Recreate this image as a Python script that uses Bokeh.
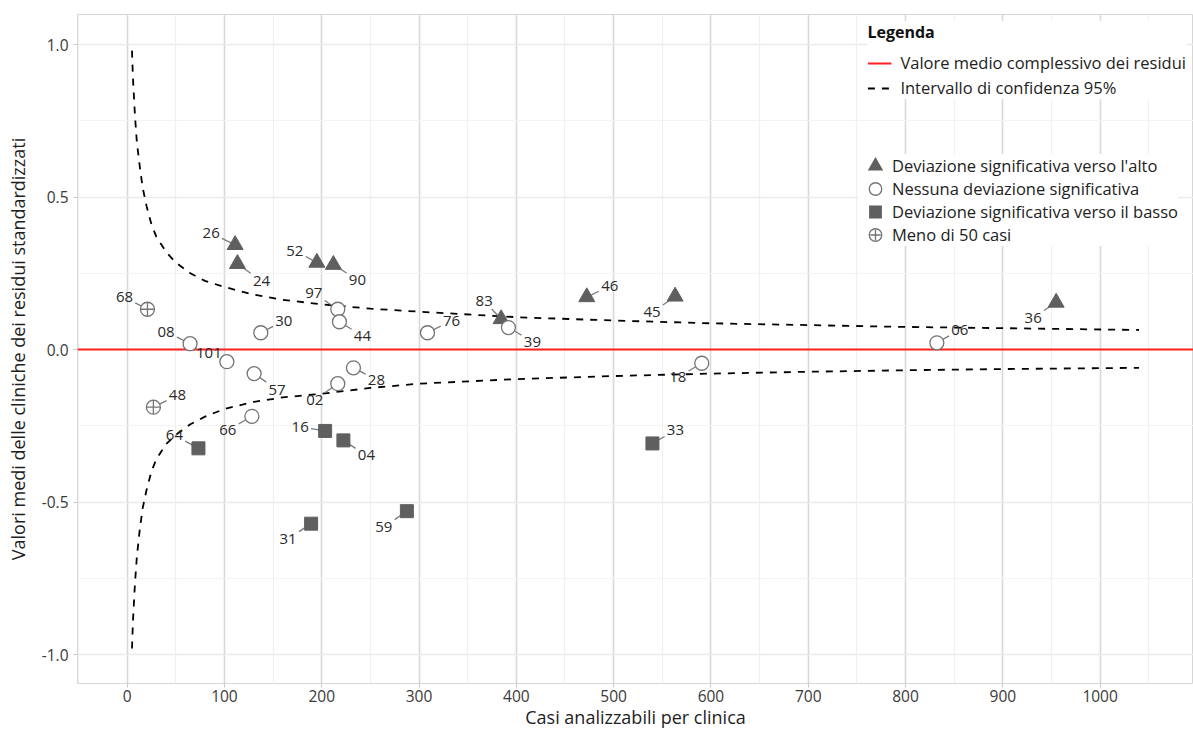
from bokeh.plotting import figure
from bokeh.models import (Legend, LegendItem, SingleIntervalTicker, PrintfTickFormatter,
                          ColumnDataSource, Range1d)
from bokeh.embed import file_html
from bokeh.resources import INLINE
from bokeh.core.properties import value

FONT = "Open Sans"

# ---------------- data ----------------
up_ids = ["26", "24", "52", "90", "83", "46", "45", "36"]
up_x = [111.0, 113.4, 195.0, 212.0, 384.4, 472.4, 563.2, 954.8]
up_y = [0.343, 0.281, 0.285, 0.278, 0.100, 0.172, 0.174, 0.154]

none_ids = ["97", "44", "30", "08", "101", "57", "28", "02", "66", "76", "39", "18", "06"]
none_x = [216.5, 218.2, 137.4, 64.7, 102.5, 130.5, 232.6, 216.5, 128.2, 308.7, 391.9, 590.6, 832.2]
none_y = [0.132, 0.091, 0.055, 0.019, -0.040, -0.079, -0.060, -0.112, -0.219, 0.055, 0.072, -0.045, 0.022]

down_ids = ["64", "16", "04", "31", "59", "33"]
down_x = [73.3, 203.5, 222.3, 189.1, 287.5, 539.9]
down_y = [-0.324, -0.267, -0.298, -0.571, -0.530, -0.308]

few_ids = ["68", "48"]
few_x = [20.9, 27.0]
few_y = [0.132, -0.189]

mean_value = 0.0

ci_n = [5, 6, 8, 10, 13, 16, 20, 25, 30, 40, 50, 65, 80, 100, 130, 160, 200, 250,
        300, 400, 500, 600, 700, 800, 900, 1040]
ci_upper = [0.98, 0.89, 0.77, 0.68, 0.60, 0.53, 0.47, 0.41, 0.37, 0.32, 0.285, 0.25,
            0.225, 0.205, 0.180, 0.163, 0.148, 0.134, 0.124, 0.106, 0.095, 0.086,
            0.080, 0.074, 0.070, 0.064]
ci_lower = [-0.98, -0.89, -0.77, -0.68, -0.59, -0.52, -0.46, -0.40, -0.36, -0.31, -0.28,
            -0.245, -0.22, -0.195, -0.172, -0.157, -0.145, -0.126, -0.112, -0.097,
            -0.087, -0.079, -0.073, -0.068, -0.064, -0.060]

# label placement (pixel offsets of the label from its point)
label_offsets = {
    "26": (-24, -12), "24": (24, 17), "52": (-22, -12), "90": (24, 15), "83": (-17, -18),
    "46": (23, -11), "45": (-23, 16), "36": (-23, 15),
    "97": (-24, -16), "44": (23, 14), "30": (23, -12), "08": (-24, -12), "101": (-18, -9),
    "57": (23, 16), "28": (23, 12), "02": (-23, 16), "66": (-24, 14), "76": (24, -12),
    "39": (24, 14), "18": (-24, 14), "06": (23, -13),
    "64": (-24, -13), "16": (-25, -4), "04": (23, 15), "31": (-23, 15), "59": (-23, 16),
    "33": (23, -13),
    "68": (-23, -12), "48": (24, -12),
}

# ---------------- figure ----------------
W, H = 1193, 733
BL, BR, BT, BB = 77, 0, 14, 50
FW, FH = W - BL - BR, H - BT - BB
x0 = -51.0
x1 = x0 + FW / 0.973
y1 = 1.0984
y0 = y1 - FH / 305.0
sx = FW / (x1 - x0)
sy = FH / (y1 - y0)

p = figure(width=W, height=H, output_backend="svg", toolbar_location=None,
           x_range=Range1d(x0, x1), y_range=Range1d(y0, y1),
           min_border_left=BL, min_border_right=BR, min_border_top=BT, min_border_bottom=BB,
           background_fill_color="white", border_fill_color="white")

p.outline_line_color = "#d6d6d6"
p.outline_line_width = 1

xt = SingleIntervalTicker(interval=100, num_minor_ticks=2)
yt = SingleIntervalTicker(interval=0.5, num_minor_ticks=2)
p.xaxis.ticker = xt
p.yaxis.ticker = yt
p.xgrid.ticker = xt
p.ygrid.ticker = yt
p.yaxis.formatter = PrintfTickFormatter(format="%.1f")

p.xgrid.grid_line_color = "#d9d9d9"
p.xgrid.grid_line_width = 1.6
p.xgrid.minor_grid_line_color = "#f0f0f0"
p.xgrid.minor_grid_line_width = 1.2
p.ygrid.grid_line_color = "#ebebeb"
p.ygrid.grid_line_width = 1.3
p.ygrid.minor_grid_line_color = "#f3f3f3"
p.ygrid.minor_grid_line_width = 1.2

for ax in (p.xaxis[0], p.yaxis[0]):
    ax.axis_line_color = None
    ax.major_tick_line_color = "#c8c8c8"
    ax.major_tick_in = 0
    ax.major_tick_out = 4
    ax.minor_tick_line_color = None
    ax.major_label_text_font = FONT
    ax.major_label_text_font_size = "15.5px"
    ax.major_label_text_color = "#3a3a3a"
    ax.axis_label_text_font = FONT
    ax.axis_label_text_font_size = "18px"
    ax.axis_label_text_font_style = "normal"
    ax.axis_label_text_color = "#1e1e1e"

p.xaxis.major_label_standoff = 2
p.xaxis.axis_label_standoff = 0
p.yaxis.major_label_standoff = 5
p.yaxis.axis_label_standoff = 9

p.xaxis.axis_label = "Casi analizzabili per clinica"
p.yaxis.axis_label = "Valori medi delle cliniche dei residui standardizzati"

# mean line and confidence band
r_mean = p.line(x=[x0, x1], y=[mean_value, mean_value], line_color="#ff2020", line_width=2)
r_up = p.line(ci_n, ci_upper, line_color="black", line_width=1.8, line_dash="7 7")
p.line(ci_n, ci_lower, line_color="black", line_width=1.8, line_dash="7 7")


def leader_data(ids, xs, ys):
    sx0, sy0, sx1, sy1, tx, ty, dxs, dys = [], [], [], [], [], [], [], []
    for i, lab in enumerate(ids):
        dx, dy = label_offsets[lab]
        hw = 4.4 * len(lab) + 2.0
        hh = 8.0
        t = min(hw / abs(dx) if dx else 9e9, hh / abs(dy) if dy else 9e9)
        ex, ey = dx * (1 - t), dy * (1 - t)
        sx0.append(xs[i]); sy0.append(ys[i])
        sx1.append(xs[i] + ex / sx); sy1.append(ys[i] - ey / sy)
        tx.append(xs[i]); ty.append(ys[i]); dxs.append(dx); dys.append(dy)
    return dict(x0=sx0, y0=sy0, x1=sx1, y1=sy1), dict(x=tx, y=ty, text=list(ids), dx=dxs, dy=dys)


groups = [(up_ids, up_x, up_y), (none_ids, none_x, none_y),
          (down_ids, down_x, down_y), (few_ids, few_x, few_y)]
label_sources = []
for ids, xs, ys in groups:
    seg, lab = leader_data(ids, xs, ys)
    p.segment("x0", "y0", "x1", "y1", source=ColumnDataSource(seg),
              line_color="#7a7a7a", line_width=1.3)
    label_sources.append(lab)

MARK = "#5f5f5f"
RING = "#747474"
p.scatter(up_x, up_y, marker="triangle", size=16, fill_color=MARK, line_color=MARK)
p.scatter(none_x, none_y, marker="circle", size=14, fill_color="white",
          line_color=RING, line_width=1.3)
p.scatter(down_x, down_y, marker="square", size=13, fill_color=MARK, line_color=MARK)
p.scatter(few_x, few_y, marker="circle_cross", size=14, fill_color="white",
          line_color=RING, line_width=1.3)

for lab in label_sources:
    p.text("x", "y", text="text", x_offset="dx", y_offset="dy", source=ColumnDataSource(lab),
           text_font=value(FONT), text_font_size="15px", text_color="#2a2a2a",
           text_align="center", text_baseline="middle")

# legend key glyphs (renderers with no drawable point, used only for the legend keys)
NAN = [float("nan")]
k_tri = p.scatter(NAN, NAN, marker="triangle", size=10, fill_color=MARK, line_color=MARK,
                  line_width=3.6, line_join="miter")
k_sq = p.scatter(NAN, NAN, marker="square", size=10, fill_color=MARK, line_color=MARK,
                 line_width=3.6, line_join="miter")
k_ring = p.scatter(NAN, NAN, marker="circle", size=10, fill_color=RING, line_color=RING,
                   line_width=4.6)
k_hole = p.scatter(NAN, NAN, marker="circle", size=10, fill_color="white", line_color="white",
                   line_width=2.0)
k_cross = p.scatter(NAN, NAN, marker="cross", size=10, line_color=RING, line_width=1.3,
                    line_cap="square")

# legends
leg1 = Legend(items=[LegendItem(label="Valore medio complessivo dei residui", renderers=[r_mean]),
                     LegendItem(label="Intervallo di confidenza 95%", renderers=[r_up])],
              title="Legenda", location="top_right")
leg1.title_text_font = FONT
leg1.title_text_font_size = "16px"
leg1.title_text_font_style = "bold"
leg1.title_text_color = "#111111"
leg1.title_standoff = 8
leg1.label_text_font = FONT
leg1.label_text_font_size = "16.5px"
leg1.label_text_color = "#222222"
leg1.glyph_width = 24
leg1.glyph_height = 20
leg1.label_height = 20
leg1.spacing = 2
leg1.label_standoff = 9
leg1.padding = 10
leg1.margin = 7
leg1.border_line_color = None
leg1.background_fill_color = "white"
leg1.background_fill_alpha = 1.0
p.add_layout(leg1)

leg2 = Legend(items=[LegendItem(label="Deviazione significativa verso l'alto", renderers=[k_tri]),
                     LegendItem(label="Nessuna deviazione significativa", renderers=[k_ring, k_hole]),
                     LegendItem(label="Deviazione significativa verso il basso", renderers=[k_sq]),
                     LegendItem(label="Meno di 50 casi", renderers=[k_ring, k_hole, k_cross])],
              location=(781, 437))
leg2.label_text_font = FONT
leg2.label_text_font_size = "16.5px"
leg2.label_text_color = "#222222"
leg2.glyph_width = 34
leg2.glyph_height = 23
leg2.label_height = 23
leg2.spacing = 0
leg2.label_standoff = 0
leg2.padding = 9
leg2.margin = 0
leg2.border_line_color = None
leg2.background_fill_color = "white"
leg2.background_fill_alpha = 1.0
p.add_layout(leg2)

open("out.html", "w").write(file_html(p, INLINE))
